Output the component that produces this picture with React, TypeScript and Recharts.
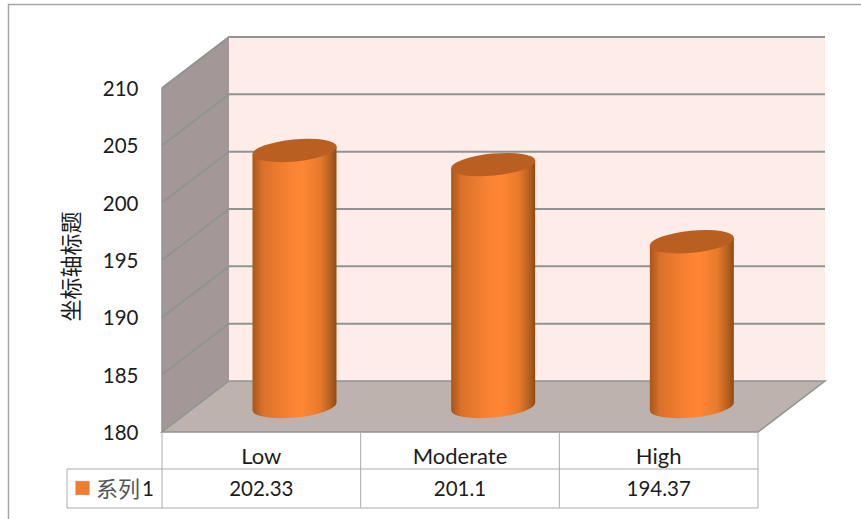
import React from "react";
import { BarChart, Bar, XAxis, YAxis, ReferenceArea, ReferenceLine } from "recharts";

const categories = ["Low", "Moderate", "High"];
const seriesValues = [202.33, 201.1, 194.37];
const yTicks = [180, 185, 190, 195, 200, 205, 210];
const seriesName = "系列1";
const axisTitle = "坐标轴标题";

const data = categories.map((name, i) => ({ name, value: seriesValues[i] }));

// depth of the fake 3D box, measured from the plane the bars stand in
const DX = 33.5;
const DY = 25.5;
const LINE = "#8f9493";
const TABLE_LINE = "#a9abab";
const TEXT = "#1c1c1c";
const FONT = "Lato, 'Noto Sans CJK SC', sans-serif";
const COL_W = 596 / 3;

// back wall, side wall and floor
const Walls = (props: any) => {
  const { x, y, width, height } = props;
  const b = y + height;
  const r = x + width;
  return (
    <g>
      <rect x={x + DX} y={y - DY} width={width} height={height} fill="#fdece8" />
      <polygon
        points={`${x - DX},${y + DY} ${x + DX},${y - DY} ${x + DX},${b - DY} ${x - DX},${b + DY}`}
        fill="#a39897"
      />
      <polygon
        points={`${x - DX},${b + DY} ${r - DX},${b + DY} ${r + DX},${b - DY} ${x + DX},${b - DY}`}
        fill="#bdb2ae"
        stroke={LINE}
        strokeWidth={1.5}
      />
      <line x1={x - DX} y1={y + DY} x2={x - DX} y2={b + DY} stroke={LINE} strokeWidth={1.5} />
    </g>
  );
};

// a gridline bends round the corner, side wall then back wall
const GridLine = (props: any) => {
  const { x1, y1, x2 } = props;
  return (
    <polyline
      points={`${x1 - DX},${y1 + DY} ${x1 + DX},${y1 - DY} ${x2 + DX},${y1 - DY}`}
      fill="none"
      stroke={LINE}
      strokeWidth={2}
    />
  );
};

const Cylinder = (props: any) => {
  const { x, y, width, height } = props;
  const cx = x + width / 2;
  const rx = width / 2;
  const ry = 11;
  const tilt = 4; // how far the ellipse ends drop/rise
  const base = y + height;
  const body = `M${x},${y + tilt} L${x},${base + tilt} A${rx} ${ry} -5.5 0 0 ${x + width},${base - tilt} L${x + width},${y - tilt} Z`;
  return (
    <g>
      <path d={body} fill="url(#cylinderFill)" />
      <ellipse cx={cx} cy={y} rx={rx + 0.3} ry={ry} fill="#b95f21" transform={`rotate(-5.5 ${cx} ${y})`} />
    </g>
  );
};

const YTick = (props: any) => {
  const { x, y, payload } = props;
  return (
    <text x={x - 51} y={y + DY + 8} textAnchor="end" fontFamily={FONT} fontSize={20.5} fill={TEXT}>
      {payload.value}
    </text>
  );
};

// category labels double as the data table under the chart
const TableColumn = (props: any) => {
  const { x, payload, index } = props;
  const cx = x - DX;
  const left = cx - COL_W / 2;
  const right = cx + COL_W / 2;
  return (
    <g fontFamily={FONT} fontSize={20.5} fill={TEXT}>
      <text x={cx} y={464} textAnchor="middle" fontSize={22}>{payload.value}</text>
      <text x={cx} y={496} textAnchor="middle">{seriesValues[index]}</text>
      <line x1={right} y1={432} x2={right} y2={508} stroke={TABLE_LINE} />
      <line x1={left} y1={469} x2={right} y2={469} stroke={TABLE_LINE} />
      <line x1={left} y1={508} x2={right} y2={508} stroke={TABLE_LINE} />
      {index === 0 && (
        <g>
          <line x1={left} y1={432} x2={left} y2={508} stroke={TABLE_LINE} />
          <polyline points={`${left},469 67,469 67,508 ${left},508`} fill="none" stroke={TABLE_LINE} />
          <rect x={75.5} y={481} width={14} height={14} fill="#ed7d31" stroke="#c0c0c0" strokeWidth={0.5} />
          <text x={96} y={497} fill="#555" fontSize={22}>{seriesName.slice(0, 2)}</text>
          <text x={142} y={496}>{seriesName.slice(2)}</text>
        </g>
      )}
    </g>
  );
};

export default function App() {
  return (
    <div style={{ position: "absolute", left: 0, top: 0, width: 861, height: 519, overflow: "hidden", background: "#fff" }}>
      <svg width={861} height={519} style={{ position: "absolute", left: 0, top: 0 }}>
        <polyline points="8.5,519 8.5,4.5 861,4.5" fill="none" stroke="#a6a6a6" strokeWidth={1.5} />
      </svg>
      <BarChart
        width={861}
        height={519}
        data={data}
        margin={{ top: 62.5, right: 69.5, bottom: 0.5, left: 0 }}
        style={{ position: "absolute", left: 0, top: 0 }}
      >
        <defs>
          <linearGradient id="cylinderFill" x1="0" y1="0" x2="1" y2="0">
            <stop offset="0" stopColor="#a8561a" />
            <stop offset="0.12" stopColor="#d9712a" />
            <stop offset="0.45" stopColor="#fa8232" />
            <stop offset="0.6" stopColor="#ff8633" />
            <stop offset="0.8" stopColor="#e97a2c" />
            <stop offset="0.93" stopColor="#b5601e" />
            <stop offset="1" stopColor="#8e4a16" />
          </linearGradient>
        </defs>
        <XAxis
          dataKey="name"
          height={112}
          axisLine={false}
          tickLine={false}
          interval={0}
          tick={<TableColumn />}
        />
        <YAxis
          type="number"
          width={195.5}
          domain={[180, 210]}
          ticks={yTicks}
          axisLine={false}
          tickLine={false}
          tickMargin={0}
          tick={<YTick />}
          label={{
            value: axisTitle,
            angle: -90,
            position: "insideLeft",
            offset: 71,
            dy: 32,
            style: { fontFamily: FONT, fontSize: 22, fill: TEXT, textAnchor: "middle" },
          }}
        />
        <ReferenceArea y1={180} y2={210} ifOverflow="visible" shape={<Walls />} />
        {yTicks.slice(1).map((t) => (
          <ReferenceLine key={t} y={t} ifOverflow="visible" zIndex={150} shape={<GridLine />} />
        ))}
        <Bar dataKey="value" barSize={84} isAnimationActive={false} shape={<Cylinder />} />
      </BarChart>
    </div>
  );
}
